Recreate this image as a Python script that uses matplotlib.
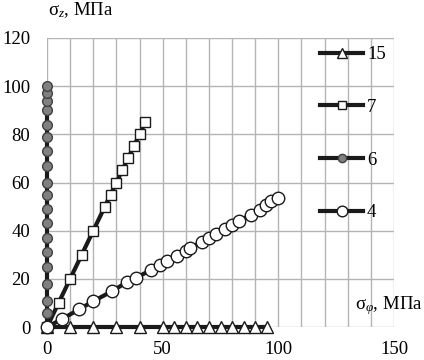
import matplotlib
matplotlib.use("Agg")
import matplotlib.pyplot as plt

plt.rcParams['font.family'] = ['Liberation Serif', 'DejaVu Serif']
plt.rcParams['mathtext.fontset'] = 'custom'
plt.rcParams['mathtext.rm'] = 'Liberation Serif'
plt.rcParams['mathtext.it'] = 'Liberation Serif:italic'

# series 15 - lies on the x axis
x15 = [0, 10, 20, 30, 40, 50, 55, 60, 65, 70, 75, 80, 85, 90, 95]
y15 = [0] * len(x15)

# series 7
x7 = [0, 5, 10, 15, 20, 25, 27.5, 30, 32.5, 35, 37.5, 40, 42.5]
y7 = [0, 10, 20, 30, 40, 50, 55, 60, 65, 70, 75, 80, 85]

# series 6 - lies on the y axis
y6 = [0, 6, 11, 18, 25, 31, 37, 43, 49, 55, 60, 67, 73, 79, 84, 90, 94, 97, 100]
x6 = [0] * len(y6)

# series 4
x4 = [0, 6.5, 14, 20, 28, 34.5, 38.5, 45, 49, 52, 56, 60, 62, 67, 70, 73,
      77, 80, 83, 88, 92, 94.5, 97, 100]
y4 = [0, 3.3, 7.4, 10.7, 14.8, 18.6, 20.4, 23.7, 25.6, 27.5, 29.5, 31.6, 32.9,
      35.4, 37.1, 38.7, 40.7, 42.3, 43.9, 46.6, 48.7, 50.5, 52.3, 53.7]

fig = plt.figure(figsize=(4.24, 3.6), dpi=100)
ax = fig.add_axes([47 / 424, 1 - 327 / 360, 347 / 424, 289 / 360])

lw = 3
ax.plot(x15, y15, color='#1a1a1a', lw=lw, marker='^', ms=8, mfc='white',
        mec='#1a1a1a', mew=1, label='15', clip_on=False)
ax.plot(x7, y7, color='#1a1a1a', lw=lw, marker='s', ms=7.5, mfc='white',
        mec='#1a1a1a', mew=1, label='7', clip_on=False)
ax.plot(x6, y6, color='#1a1a1a', lw=lw, marker='o', ms=7, mfc='#808080',
        mec='#404040', mew=1, label='6', clip_on=False)
ax.plot(x4, y4, color='#1a1a1a', lw=lw, marker='o', ms=9, mfc='white',
        mec='#1a1a1a', mew=1, label='4', clip_on=False)

ax.set_xlim(0, 150)
ax.set_ylim(0, 120)
ax.set_xticks([0, 50, 100, 150])
ax.set_xticks(range(0, 151, 10), minor=True)
ax.set_yticks(range(0, 121, 20))
ax.grid(True, which='both', axis='x', color='#b4b4b4', lw=1)
ax.grid(True, which='major', axis='y', color='#b4b4b4', lw=1)
ax.set_axisbelow(True)
for s in ax.spines.values():
    s.set_visible(False)
ax.tick_params(which='both', length=0, labelsize=13.5)
ax.tick_params(axis='x', pad=10)
ax.tick_params(axis='y', pad=12)

ax.legend(loc='upper left', bbox_to_anchor=(0.787, 0.972), frameon=False,
          fontsize=13.5, handlelength=2.3, handletextpad=0.2, labelspacing=1.9,
          borderpad=0, borderaxespad=0, markerscale=0.85)

fig.text(48 / 424, 1 - 10 / 360, r'$\mathregular{σ}_{z}$, МПа', fontsize=13.5,
         ha='left', va='center')
fig.text(423 / 424, 1 - 306 / 360, r'$\mathregular{σ}_{φ}$, МПа', fontsize=13.5,
         ha='right', va='center')

fig.savefig('out.png', dpi=100)
